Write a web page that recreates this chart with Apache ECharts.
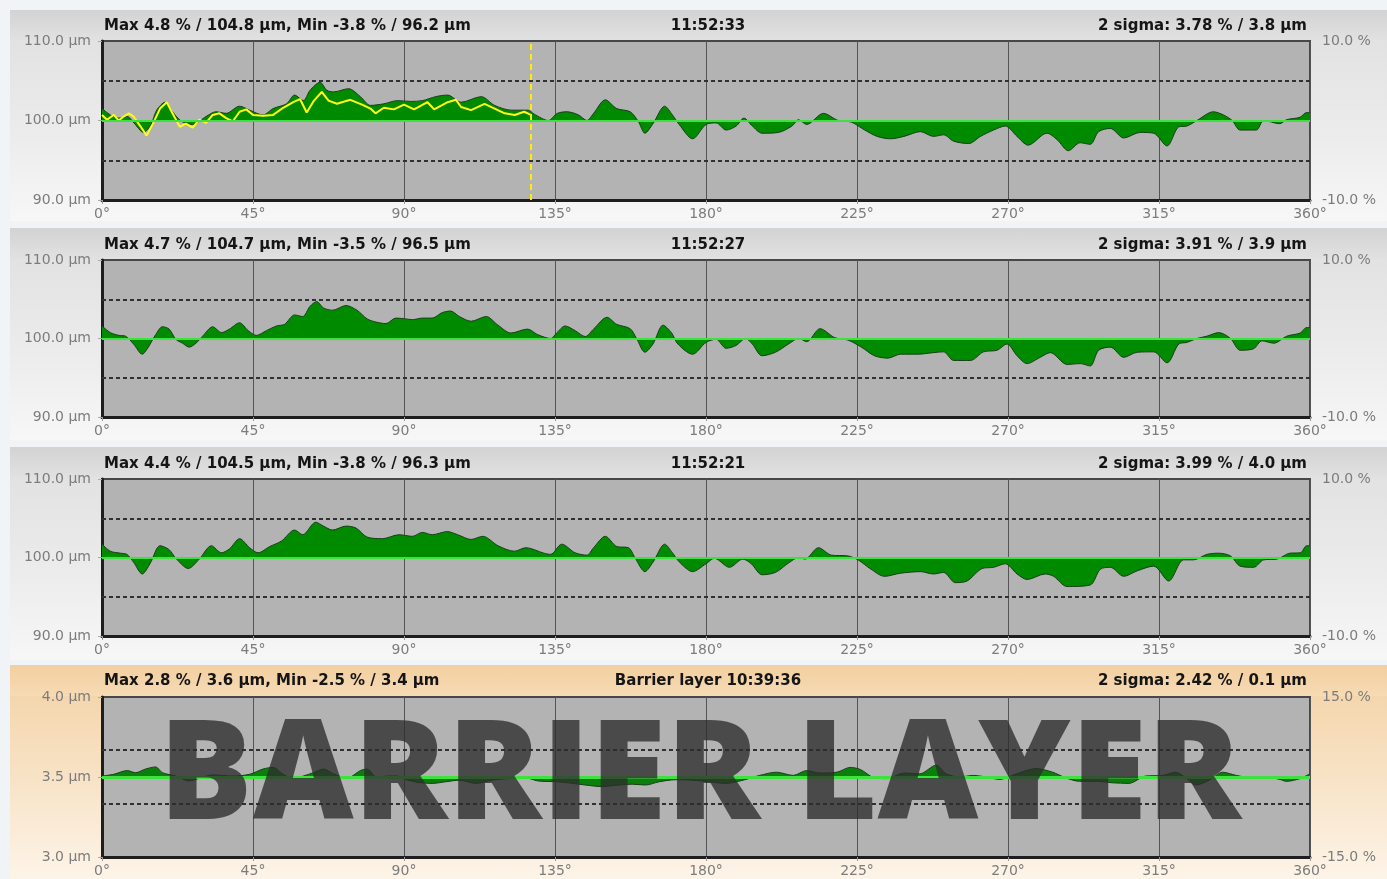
<!DOCTYPE html>
<html>
<head>
<meta charset="utf-8">
<title>Profile</title>
<script src="https://cdn.jsdelivr.net/npm/echarts@6/dist/echarts.min.js"></script>
<style>
    html, body { margin: 0; padding: 0; background: #f1f4f7; }
    #wrap { position: relative; width: 1387px; height: 879px; overflow: hidden; }
    .panel { position: absolute; left: 10px; width: 1377px; }
    .hdr { position: absolute; left: 0; right: 0; top: 0; }
    .gray { background: linear-gradient(to bottom, #dfdfdf 0%, #ececec 60%, #f7f7f7 100%); }
    .gray .hdr { background: linear-gradient(to bottom, #d3d3d3, #e1e1e1); }
    .peach { background: linear-gradient(to bottom, #f3d2a4 0%, #f8e3c8 55%, #fdf4e8 100%); }
    .peach .hdr { background: linear-gradient(to bottom, #f2cf9f, #f6dbb5); }
    #graph { position: absolute; left: 0; top: 0; width: 1387px; height: 879px; }
</style>
</head>
<body>
<div id="wrap">
    <div class="panel gray" style="top:10px;height:211px"><div class="hdr" style="height:30px"></div></div>
    <div class="panel gray" style="top:228px;height:212px"><div class="hdr" style="height:31px"></div></div>
    <div class="panel gray" style="top:447px;height:213px"><div class="hdr" style="height:31px"></div></div>
    <div class="panel peach" style="top:665px;height:214px"><div class="hdr" style="height:31px"></div></div>
    <div id="graph"></div>
</div>
<script>
// 偏差数据 [角度°, 偏差µm]
var p1Profile = [[0,1.5],[2.5,0.7],[5,0.3],[7.5,0.5],[9.5,-0.3],[12.4,-1.5],[14.5,-0.6],[16.3,1.3],[18.8,2.3],[21,1.1],
    [23.7,-0.1],[27,-0.5],[31,0.5],[34,1.1],[37,0.9],[41,1.8],[44,1.3],[48,0.7],[51,1.5],[55,2.1],[57.4,3.2],[60,2.5],
    [62,3.8],[65,4.8],[67,3.8],[69,3.6],[73.5,4.0],[77,3.0],[80,1.9],[84,2.1],[88,2.5],[92,2.4],[95.5,2.5],[99.4,3.0],
    [103,3.2],[107,2.3],[113,3.0],[117,1.9],[122,1.3],[127,1.3],[128.8,0.8],[133,0],[135.7,0.9],[138.6,1.1],[142,0.7],
    [144.5,0],[146.5,0.9],[150,2.6],[153.4,1.5],[157.4,1.1],[159.8,-0.1],[161.8,-1.6],[164.2,-0.4],[167.7,1.8],[170,0.7],
    [172,-0.5],[176,-2.3],[180,-0.5],[183,-0.3],[186,-1.2],[189,-0.7],[191.3,0.3],[193.8,-0.7],[196.7,-1.6],[201.6,-1.5],
    [205.6,-0.7],[207.6,0.1],[210,-0.5],[215,0.9],[219.4,0],[223.3,-0.2],[227.3,-1.2],[231,-2.0],[235,-2.3],[239,-2.0],
    [243.9,-1.4],[247.8,-2.0],[250.8,-1.8],[253.8,-2.6],[258.3,-2.9],[261.8,-2.0],[265.7,-1.2],[269.2,-0.7],[272.7,-2.0],
    [276,-3.1],[281.6,-1.6],[284.6,-2.4],[288,-3.8],[291.5,-2.8],[294.5,-3.0],[297,-1.4],[300.5,-1.0],[304.5,-2.2],
    [309.4,-1.5],[313.4,-1.6],[317.4,-3.2],[320.9,-0.8],[323.3,-0.7],[326.3,0],[331.2,1.1],[334.2,0.7],[336.8,0],
    [339.2,-1.2],[344,-1.2],[346.2,0],[351,-0.4],[353,0.1],[357,0.4],[359,1.0],[360,1.0]];

// 实时测量 (黄线)
var p1Live = [[0,0.7],[1.5,0.1],[3.5,0.7],[5,0],[6.4,0.5],[8,0.9],[9.4,0.5],[11.4,-0.7],[13.3,-1.9],[15.3,-0.3],
    [17.3,1.5],[19.3,2.3],[21,0.9],[23.2,-0.8],[25,-0.4],[27,-0.9],[29,0.1],[31,-0.3],[33,0.7],[35,0.9],[37,0.3],
    [39,-0.1],[41,1.1],[43,1.4],[45,0.7],[48,0.6],[51,0.7],[54,1.6],[57,2.3],[59,2.7],[61,1.0],[63,2.4],[65.5,3.6],
    [67.5,2.5],[70,2.1],[74,2.6],[77.5,2.0],[80,1.5],[81.5,0.9],[84,1.6],[87,1.4],[90,2.0],[93,1.4],[97,2.3],[99,1.4],
    [103,2.3],[105.5,2.6],[107,1.7],[110,1.3],[114,2.1],[117,1.5],[120,0.9],[123,0.7],[125.8,1.1],[127.8,0.7]];
var p1Cursor = 127.8;

var p2Profile = [[0,1.6],[2.5,0.75],[5,0.4],[7,0.3],[9.4,-0.7],[12,-2.0],[13.8,-1.1],[16,0.5],[18,1.5],[20,1.2],
    [22,-0.1],[24,-0.6],[26,-1.1],[28,-0.6],[30,0.3],[33,1.5],[35.6,0.75],[38,1.2],[41,2.0],[43.6,1.0],[46,0.4],[49,1.0],
    [52,1.6],[54.4,1.8],[57.4,3.0],[59.8,2.8],[62,4.1],[64,4.7],[66,3.9],[68.7,3.6],[72.7,4.2],[76,3.6],[79,2.5],
    [81.6,2.1],[84.6,1.9],[87.6,2.6],[90.5,2.5],[92.5,2.4],[95.5,2.6],[98.4,2.6],[101.4,3.3],[103.9,3.5],[106.5,2.8],
    [110,2.2],[114.5,2.8],[118,1.7],[121.9,0.7],[126.8,1.2],[129.8,0.5],[133.7,0],[135.7,0.8],[138,1.6],[141,1.0],
    [144,0.25],[146.5,1.2],[150.5,2.7],[153.4,1.8],[157.4,1.25],[159.3,0],[161.8,-1.75],[164.2,-0.7],[167.2,1.7],
    [169.7,0.75],[171.6,-0.7],[176,-2.0],[180,-0.5],[183,-0.1],[186,-1.25],[188.9,-0.9],[191.8,0],[193.8,-0.7],
    [196.7,-2.2],[200.7,-1.75],[204.6,-0.7],[207.6,0],[210,-0.4],[214,1.25],[218.4,0.1],[222.3,-0.2],[226.3,-1.1],
    [230.2,-2.2],[234.2,-2.5],[238,-2.0],[243,-2.0],[247.8,-1.8],[250.8,-1.7],[253.8,-2.8],[258.8,-2.8],[262.7,-1.7],
    [266.7,-1.5],[269.7,-0.7],[272.7,-2.2],[275.7,-3.2],[279.6,-2.4],[282.6,-1.8],[287.6,-3.3],[291.6,-3.2],[294.5,-3.5],
    [297,-1.5],[300.5,-1.1],[304.5,-2.4],[308.5,-1.75],[313.4,-1.7],[317.4,-3.1],[320.9,-0.7],[323.3,-0.5],[326.3,0],
    [329.3,0.3],[332.8,0.75],[336.3,0],[339.2,-1.5],[343.2,-1.3],[345.7,-0.3],[349.2,-0.6],[353.1,0.3],[357.1,0.7],
    [359,1.4],[360,1.4]];

var p3Profile = [[0,1.7],[2.5,0.8],[5.5,0.55],[7.4,0.4],[9.4,-0.6],[12,-2.1],[14.3,-0.8],[17.3,1.5],[20,1.0],[22,-0.1],
    [25.7,-1.4],[29,-0.2],[32.6,1.5],[35.6,0.6],[38,1.1],[41,2.4],[44,1.25],[46.5,0.6],[50,1.4],[53.5,2.1],[57.4,3.5],
    [59.8,2.9],[63.7,4.5],[66,4.0],[68.7,3.5],[72.7,4.0],[75.7,3.75],[79,2.6],[83.6,2.4],[88.5,2.9],[92.5,2.7],[95.5,3.2],
    [98.4,2.9],[102.9,3.3],[106,2.9],[110,2.3],[113.5,2.7],[118,1.5],[122.9,0.8],[126.3,1.25],[131.7,0.55],[133.7,0.4],
    [137,1.7],[141,0.6],[144.5,0.3],[146.5,1.25],[150,2.7],[153.4,1.4],[156.9,1.25],[158.8,0],[161.8,-1.8],[164.2,-0.6],
    [167.7,1.7],[170,0.6],[172,-0.55],[176,-1.8],[180,-0.8],[182.5,-0.1],[187,-1.25],[191,-0.2],[193.5,-0.8],
    [196.7,-2.2],[200.7,-1.9],[204.6,-0.7],[207.6,0],[209.5,-0.2],[213.5,1.25],[217.4,0.3],[222.3,0.2],[225.3,-0.3],
    [229.2,-1.5],[233.2,-2.4],[238,-2.0],[243.9,-1.8],[247.8,-2.1],[250.8,-1.9],[254.3,-3.2],[257.8,-3.0],[262.3,-1.4],
    [265.7,-1.25],[269.2,-0.8],[272.7,-2.1],[275.7,-2.8],[281.1,-2.1],[283.6,-2.4],[287.6,-3.7],[294.5,-3.5],[297.5,-1.5],
    [300.5,-1.25],[304.5,-2.4],[308.5,-1.7],[313.4,-1.1],[317.9,-3.0],[322.3,-0.3],[325.3,-0.3],[329.3,0.4],[332.8,0.55],
    [336.3,0.2],[339.2,-1.1],[343.2,-1.25],[346.2,-0.3],[350.2,-0.2],[354,0.55],[357.1,0.6],[359,1.5],[360,1.5]];

// 阻隔层
var p4Profile = [[0,0.006],[3.5,0.017],[7.5,0.04],[10,0.027],[13,0.05],[16,0.063],[18,0.027],[22,0.006],[26,-0.025],
    [29,-0.008],[33,0.013],[39,0.006],[44,0.017],[48,0.05],[51,0.06],[54,0.017],[57,-0.01],[60,0.006],[63,0.027],
    [66,0.05],[69,0.02],[73,-0.008],[77,0.04],[79,0.05],[82,-0.004],[85,0.006],[88,0.006],[90.5,-0.015],[94.5,-0.035],
    [98.4,-0.04],[102.4,-0.03],[106.5,-0.02],[111.4,-0.04],[116.3,-0.02],[121,-0.01],[126,-0.004],[130,-0.025],
    [136,-0.03],[144,-0.05],[149,-0.06],[154,-0.05],[158,-0.045],[162,-0.05],[166,-0.03],[171,-0.017],[176,-0.02],
    [180.7,-0.03],[186,-0.04],[191,-0.02],[196,0.01],[201,0.03],[206,0.01],[210,0.04],[214,0.025],[219,0.03],[223,0.06],
    [226,0.047],[230,-0.004],[234,-0.01],[239,0.025],[243.7,0.02],[248.6,0.074],[251.6,0.02],[255.6,0],[259.5,0.01],
    [263.5,0],[267.5,-0.015],[272.5,0.02],[278.4,0.053],[283.3,0.03],[287.3,-0.006],[291.3,-0.027],[296.3,-0.027],
    [301,-0.036],[306,-0.04],[311,0.006],[316,0.01],[320,0.03],[323,-0.006],[326,-0.05],[330,-0.02],[334,0.03],
    [338,0.01],[343,-0.006],[347,0],[351,-0.015],[353,-0.027],[357,-0.01],[360,0.02]];

var nominal = [100, 100, 100, 3.5];      // 名义厚度 µm
var axisRange = [10, 10, 10, 0.5];       // 左轴 ± µm
var pctRange = [10, 10, 10, 15];         // 右轴 ± %
var tolerance = [5, 5, 5, 0.175];        // 虚线 ± µm

var headLeft = ['Max 4.8 % / 104.8 µm, Min -3.8 % / 96.2 µm', 'Max 4.7 % / 104.7 µm, Min -3.5 % / 96.5 µm',
    'Max 4.4 % / 104.5 µm, Min -3.8 % / 96.3 µm', 'Max 2.8 % / 3.6 µm, Min -2.5 % / 3.4 µm'];
var headMid = ['11:52:33', '11:52:27', '11:52:21', 'Barrier layer 10:39:36'];
var headRight = ['2 sigma: 3.78 % / 3.8 µm', '2 sigma: 3.91 % / 3.9 µm', '2 sigma: 3.99 % / 4.0 µm',
    '2 sigma: 2.42 % / 0.1 µm'];

var profiles = [p1Profile, p2Profile, p3Profile, p4Profile];

// 版面
var gridTop = [41, 260, 479, 697];
var gridHeight = [159, 157, 157, 160];
var headY = [26, 245, 464, 681];

var option = {
    animation: false,
    backgroundColor: 'transparent',
    grid: [], xAxis: [], yAxis: [], series: [], graphic: []
};

var fontAxis = 'DejaVu Sans';
var labelColor = '#7c7c7c';

for (var i = 0; i < 4; i++) {
    (function (i) {
        option.grid.push({
            left: 102, right: 77, top: gridTop[i], height: gridHeight[i],
            show: true, backgroundColor: '#b3b3b3', borderColor: '#474747', borderWidth: 2
        });
        option.xAxis.push({
            type: 'value', gridIndex: i, min: 0, max: 360, interval: 45,
            axisLine: {show: true, onZero: false, lineStyle: {color: '#1e1e1e', width: 3}},
            axisTick: {show: true, length: 4, lineStyle: {color: '#999'}},
            axisLabel: {formatter: function (v) { return v + '°'; }, color: labelColor, fontSize: 14,
                margin: 7, fontFamily: fontAxis},
            splitLine: {show: true, lineStyle: {color: '#545454', width: 1}}
        });
        option.yAxis.push({
            type: 'value', gridIndex: i, position: 'left',
            min: -axisRange[i], max: axisRange[i], interval: axisRange[i],
            axisLine: {show: true, onZero: false, lineStyle: {color: '#1e1e1e', width: 3}},
            axisTick: {show: true, length: 4, lineStyle: {color: '#aaa'}},
            axisLabel: {formatter: function (v) { return (nominal[i] + v).toFixed(1) + ' µm'; },
                color: labelColor, fontSize: 14, margin: 11, fontFamily: fontAxis},
            splitLine: {show: false}
        });
        option.yAxis.push({
            type: 'value', gridIndex: i, position: 'right',
            min: -pctRange[i], max: pctRange[i], interval: pctRange[i],
            axisLine: {show: false},
            axisTick: {show: false},
            axisLabel: {formatter: function (v) { return v === 0 ? '' : v.toFixed(1) + ' %'; },
                color: labelColor, fontSize: 14, margin: 12, fontFamily: fontAxis},
            splitLine: {show: false}
        });

        var dash = {color: '#303030', width: 2, type: [4, 3]};
        option.series.push({
            type: 'line', xAxisIndex: i, yAxisIndex: 2 * i,
            data: profiles[i], showSymbol: false, smooth: 0.3,
            lineStyle: {color: '#183f18', width: 1},
            areaStyle: {color: i === 3 ? '#0a800a' : '#008a00', opacity: 1},
            markLine: {
                silent: true, symbol: 'none', label: {show: false},
                data: [
                    {yAxis: tolerance[i], lineStyle: dash},
                    {yAxis: -tolerance[i], lineStyle: dash},
                    {yAxis: 0, lineStyle: {color: '#3ee23e', width: i === 3 ? 3 : 2, type: 'solid'}}
                ]
            },
            z: 2
        });

        var hFont = 'bold 15px "DejaVu Sans"';
        option.graphic.push(
            {type: 'text', x: 104, y: headY[i], style: {text: headLeft[i], font: hFont, fill: '#151515',
                textAlign: 'left', textVerticalAlign: 'middle'}},
            {type: 'text', x: 708, y: headY[i], style: {text: headMid[i], font: hFont, fill: '#151515',
                textAlign: 'center', textVerticalAlign: 'middle'}},
            {type: 'text', x: 1307, y: headY[i], style: {text: headRight[i], font: hFont, fill: '#151515',
                textAlign: 'right', textVerticalAlign: 'middle'}}
        );
    })(i);
}

// 实时黄线 + 光标
option.series.push({
    type: 'line', xAxisIndex: 0, yAxisIndex: 0,
    data: p1Live, showSymbol: false,
    lineStyle: {color: '#ffff14', width: 2},
    markLine: {
        silent: true, symbol: 'none', label: {show: false},
        data: [{xAxis: p1Cursor}],
        lineStyle: {color: '#ffee00', width: 2, type: [6, 4]}
    },
    z: 3
});

// 水印文字
option.graphic.push({
    type: 'text', x: 700, y: 779, z: 100,
    style: {
        text: 'BARRIER LAYER', font: '800 139px "Open Sans"',
        fill: 'rgba(45,45,45,0.78)', textAlign: 'center', textVerticalAlign: 'middle'
    }
});

var chart = echarts.init(document.getElementById('graph'));
chart.setOption(option);
</script>
</body>
</html>
